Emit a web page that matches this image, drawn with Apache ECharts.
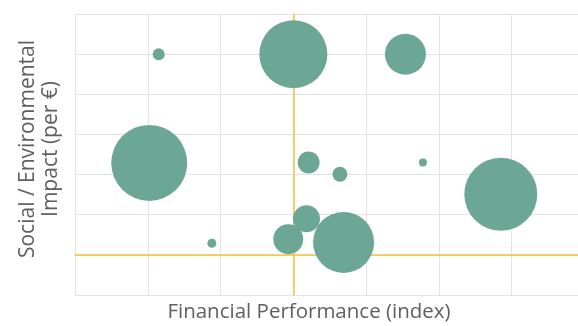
<!DOCTYPE html>
<html>
<head>
<meta charset="utf-8">
<script src="https://cdn.jsdelivr.net/npm/echarts@6/dist/echarts.min.js"></script>
<style>
  html, body { margin: 0; padding: 0; background: #fff; }
  #chart { width: 578px; height: 326px; }
</style>
</head>
<body>
<div id="chart"></div>
<script>
// financial index (x), social/env impact per € (y), bubble volume
const finPerf   = [-1.85, 0.00, 1.54, -1.98, 0.21, 0.64, 1.78, 2.85, 0.18, -0.07, 0.69, -1.12];
const impact    = [ 5.00, 5.00, 5.00,  2.29, 2.30, 2.01, 2.30, 1.51, 0.90,  0.39, 0.31,  0.29];
const volume    = [ 9, 289, 105, 361, 30, 14, 4, 333, 46, 56, 233, 5];

const xTitle = 'Financial Performance (index)';
const yTitle = 'Social / Environmental\nImpact (per €)';

const points = finPerf.map((x, i) => [x, impact[i], volume[i]]);

const chart = echarts.init(document.getElementById('chart'), null, { renderer: 'canvas' });
const gridCol = '#e3e3e3';
const axisCol = '#f5c242';
const font = '"Open Sans", sans-serif';

chart.setOption({
  animation: false,
  // plot runs a bit past the right edge of the picture
  grid: { left: 75, top: 14, right: -6.5, bottom: 31, outerBoundsMode: 'none' },
  xAxis: {
    type: 'value', min: -3, max: 4, interval: 1,
    axisLine: { show: true, onZero: true, lineStyle: { color: axisCol, width: 1.5 } },
    axisTick: { show: false }, axisLabel: { show: false },
    splitLine: { show: true, lineStyle: { color: gridCol, width: 1 } }
  },
  yAxis: {
    type: 'value', min: -1, max: 6, interval: 1,
    axisLine: { show: true, onZero: true, lineStyle: { color: axisCol, width: 1.5 } },
    axisTick: { show: false }, axisLabel: { show: false },
    splitLine: { show: true, lineStyle: { color: gridCol, width: 1 } }
  },
  graphic: [
    { type: 'text', x: 309, y: 312,
      style: { text: xTitle, fill: '#5f5f5f', font: '20.5px ' + font, align: 'center', verticalAlign: 'middle' } },
    { type: 'text', x: 40, y: 149, rotation: Math.PI / 2,
      style: { text: yTitle, fill: '#5f5f5f', font: '21px ' + font, lineHeight: 23, align: 'center', verticalAlign: 'middle' } }
  ],
  series: [{
    type: 'scatter',
    z: 5,
    data: points,
    symbolSize: d => Math.sqrt(d[2]) * 4,
    itemStyle: { color: '#6ca694', opacity: 1 }
  }]
});
</script>
</body>
</html>
